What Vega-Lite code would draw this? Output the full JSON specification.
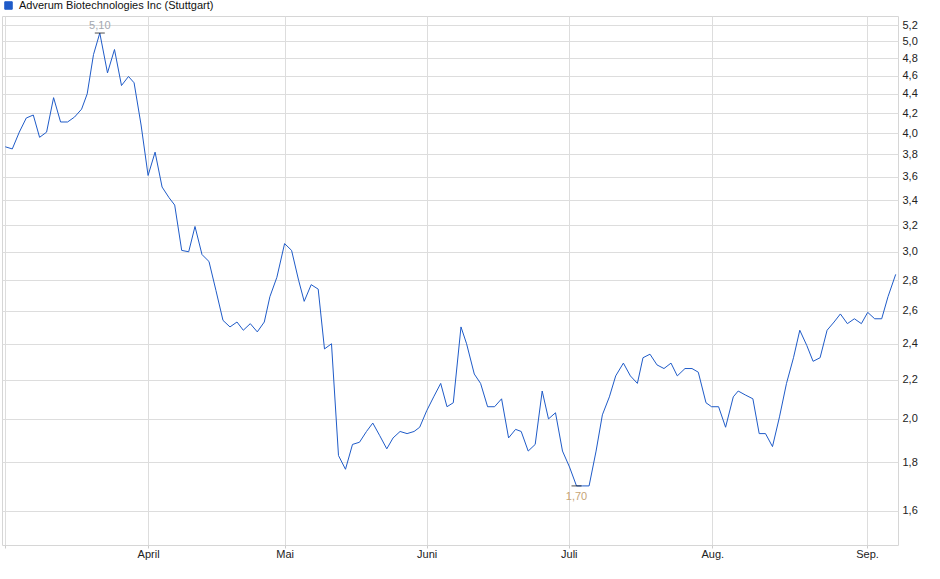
{
  "$schema": "https://vega.github.io/schema/vega-lite/v6.json",
  "description": "Adverum Biotechnologies Inc (Stuttgart) price chart, log scale",
  "width": 896,
  "height": 529,
  "autosize": {"type": "none"},
  "padding": {"left": 2, "top": 16, "right": 42, "bottom": 34},
  "background": "#ffffff",
  "config": {
    "font": "Liberation Sans",
    "view": {"stroke": "#d6d6d6", "strokeWidth": 1},
    "axis": {
      "gridColor": "#dddddd",
      "domain": false,
      "labelFont": "Liberation Sans",
      "labelFontSize": 11,
      "labelColor": "#222222",
      "title": null
    }
  },
  "datasets": {
    "prices": [
      {"day": 0, "price": 3.87}, {"day": 1, "price": 3.85}, {"day": 2, "price": 4.01},
      {"day": 3, "price": 4.15}, {"day": 4, "price": 4.18}, {"day": 4.9, "price": 3.96},
      {"day": 5.9, "price": 4.01}, {"day": 6.9, "price": 4.36}, {"day": 7.9, "price": 4.11},
      {"day": 8.9, "price": 4.11}, {"day": 9.9, "price": 4.16}, {"day": 10.9, "price": 4.24},
      {"day": 11.7, "price": 4.40}, {"day": 12.6, "price": 4.84}, {"day": 13.5, "price": 5.10},
      {"day": 14.6, "price": 4.63}, {"day": 15.6, "price": 4.90}, {"day": 16.6, "price": 4.49},
      {"day": 17.6, "price": 4.59}, {"day": 18.4, "price": 4.52}, {"day": 19.4, "price": 4.08},
      {"day": 20.4, "price": 3.61}, {"day": 21.4, "price": 3.82}, {"day": 22.4, "price": 3.51},
      {"day": 23.4, "price": 3.42}, {"day": 24.2, "price": 3.36}, {"day": 25.2, "price": 3.01},
      {"day": 26.2, "price": 3.00}, {"day": 27.1, "price": 3.19}, {"day": 28.1, "price": 2.98},
      {"day": 29.1, "price": 2.93}, {"day": 30.1, "price": 2.73}, {"day": 31.1, "price": 2.54},
      {"day": 32.1, "price": 2.50}, {"day": 33.1, "price": 2.53}, {"day": 34, "price": 2.48},
      {"day": 35, "price": 2.52}, {"day": 36, "price": 2.47}, {"day": 37, "price": 2.53},
      {"day": 37.8, "price": 2.69}, {"day": 38.8, "price": 2.82}, {"day": 39.9, "price": 3.06},
      {"day": 40.9, "price": 3.01}, {"day": 41.9, "price": 2.80}, {"day": 42.7, "price": 2.66},
      {"day": 43.7, "price": 2.77}, {"day": 44.7, "price": 2.74}, {"day": 45.6, "price": 2.37},
      {"day": 46.6, "price": 2.40}, {"day": 47.6, "price": 1.83}, {"day": 48.6, "price": 1.77},
      {"day": 49.6, "price": 1.88}, {"day": 50.6, "price": 1.89}, {"day": 51.6, "price": 1.94},
      {"day": 52.5, "price": 1.98}, {"day": 53.5, "price": 1.92}, {"day": 54.5, "price": 1.86},
      {"day": 55.4, "price": 1.91}, {"day": 56.4, "price": 1.94}, {"day": 57.4, "price": 1.93},
      {"day": 58.4, "price": 1.94}, {"day": 59.2, "price": 1.96}, {"day": 60.2, "price": 2.04},
      {"day": 61.2, "price": 2.11}, {"day": 62.2, "price": 2.18}, {"day": 63.1, "price": 2.06},
      {"day": 64, "price": 2.08}, {"day": 65.1, "price": 2.50}, {"day": 65.9, "price": 2.40},
      {"day": 67, "price": 2.23}, {"day": 67.9, "price": 2.18}, {"day": 68.9, "price": 2.06},
      {"day": 69.9, "price": 2.06}, {"day": 70.9, "price": 2.10}, {"day": 71.9, "price": 1.91},
      {"day": 72.9, "price": 1.95}, {"day": 73.7, "price": 1.94}, {"day": 74.7, "price": 1.85},
      {"day": 75.7, "price": 1.88}, {"day": 76.7, "price": 2.14}, {"day": 77.6, "price": 2.00},
      {"day": 78.6, "price": 2.03}, {"day": 79.6, "price": 1.85}, {"day": 80.6, "price": 1.78},
      {"day": 81.6, "price": 1.70}, {"day": 82.5, "price": 1.70}, {"day": 83.4, "price": 1.70},
      {"day": 84.4, "price": 1.85}, {"day": 85.3, "price": 2.02}, {"day": 86.3, "price": 2.11},
      {"day": 87.2, "price": 2.22}, {"day": 88.3, "price": 2.29}, {"day": 89.3, "price": 2.22},
      {"day": 90.3, "price": 2.18}, {"day": 91.1, "price": 2.32}, {"day": 92.1, "price": 2.34},
      {"day": 93.1, "price": 2.28}, {"day": 94.1, "price": 2.26}, {"day": 95.1, "price": 2.29},
      {"day": 96, "price": 2.22}, {"day": 97.1, "price": 2.26}, {"day": 98.1, "price": 2.26},
      {"day": 99, "price": 2.24}, {"day": 100.1, "price": 2.08}, {"day": 100.9, "price": 2.06},
      {"day": 101.9, "price": 2.06}, {"day": 102.9, "price": 1.96}, {"day": 104, "price": 2.11},
      {"day": 104.7, "price": 2.14}, {"day": 105.7, "price": 2.12}, {"day": 106.8, "price": 2.10},
      {"day": 107.7, "price": 1.93}, {"day": 108.6, "price": 1.93}, {"day": 109.6, "price": 1.87},
      {"day": 110.6, "price": 2.01}, {"day": 111.6, "price": 2.18}, {"day": 112.6, "price": 2.32},
      {"day": 113.5, "price": 2.48}, {"day": 114.5, "price": 2.39}, {"day": 115.4, "price": 2.30},
      {"day": 116.4, "price": 2.32}, {"day": 117.4, "price": 2.48}, {"day": 118.4, "price": 2.53},
      {"day": 119.3, "price": 2.58}, {"day": 120.3, "price": 2.52}, {"day": 121.3, "price": 2.55},
      {"day": 122.3, "price": 2.52}, {"day": 123.2, "price": 2.59}, {"day": 124.2, "price": 2.55},
      {"day": 125.2, "price": 2.55}, {"day": 126.1, "price": 2.69}, {"day": 127.2, "price": 2.84}
    ],
    "extremes": [
      {"day": 13.5, "price": 5.10, "label": "5,10", "kind": "high"},
      {"day": 81.6, "price": 1.70, "label": "1,70", "kind": "low"}
    ]
  },
  "encoding": {
    "x": {
      "field": "day",
      "type": "quantitative",
      "scale": {"domain": [-0.47, 127.53], "nice": false, "zero": false},
      "axis": {
        "values": [0, 20.4, 39.9, 60.2, 80.5, 101, 123.1],
        "grid": true,
        "ticks": true,
        "tickSize": 3,
        "tickColor": "#cccccc",
        "labelPadding": 0,
        "labelFlush": false,
        "labelOverlap": false,
        "labelExpr": "datum.value < 10 ? '' : datum.value < 30 ? 'April' : datum.value < 50 ? 'Mai' : datum.value < 70 ? 'Juni' : datum.value < 90 ? 'Juli' : datum.value < 110 ? 'Aug.' : 'Sep.'"
      }
    },
    "y": {
      "field": "price",
      "type": "quantitative",
      "scale": {"type": "log", "domain": [1.473, 5.315], "nice": false, "zero": false},
      "axis": {
        "orient": "right",
        "values": [1.6, 1.8, 2.0, 2.2, 2.4, 2.6, 2.8, 3.0, 3.2, 3.4, 3.6, 3.8, 4.0, 4.2, 4.4, 4.6, 4.8, 5.0, 5.2],
        "grid": true,
        "ticks": false,
        "tickSize": 0,
        "labelPadding": 4,
        "labelAlign": "left",
        "labelBaseline": "middle",
        "labelFlush": false,
        "labelOverlap": false,
        "labelExpr": "replace(format(datum.value, '.1f'), '.', ',')"
      }
    }
  },
  "layer": [
    {
      "data": {"name": "prices"},
      "mark": {"type": "line", "strokeWidth": 1, "interpolate": "linear"},
      "encoding": {
        "color": {
          "datum": "Adverum Biotechnologies Inc (Stuttgart)",
          "scale": {"range": ["#1f5bc8"]},
          "legend": {
            "orient": "none",
            "legendX": 1,
            "legendY": -16,
            "title": null,
            "padding": 0,
            "symbolType": "square",
            "symbolSize": 56,
            "symbolStrokeWidth": 1,
            "labelFontSize": 11,
            "labelFont": "Liberation Sans",
            "labelColor": "#111111",
            "labelOffset": 5,
            "labelLimit": 400,
            "encode": {
              "symbols": {
                "update": {
                  "fill": {"value": "#1f5bc8"},
                  "stroke": {"value": "#0d2350"},
                  "opacity": {"value": 1}
                }
              }
            }
          }
        }
      }
    },
    {
      "data": {"name": "extremes"},
      "mark": {"type": "tick", "orient": "horizontal", "size": 10, "thickness": 1, "color": "#000000"}
    },
    {
      "data": {"name": "extremes"},
      "transform": [{"filter": "datum.kind == 'high'"}],
      "mark": {"type": "text", "dy": -4, "baseline": "alphabetic", "align": "center", "fontSize": 11, "color": "#a3a8b0"},
      "encoding": {"text": {"field": "label"}}
    },
    {
      "data": {"name": "extremes"},
      "transform": [{"filter": "datum.kind == 'low'"}],
      "mark": {"type": "text", "dy": 14, "baseline": "alphabetic", "align": "center", "fontSize": 11, "color": "#c6a476"},
      "encoding": {"text": {"field": "label"}}
    }
  ]
}
